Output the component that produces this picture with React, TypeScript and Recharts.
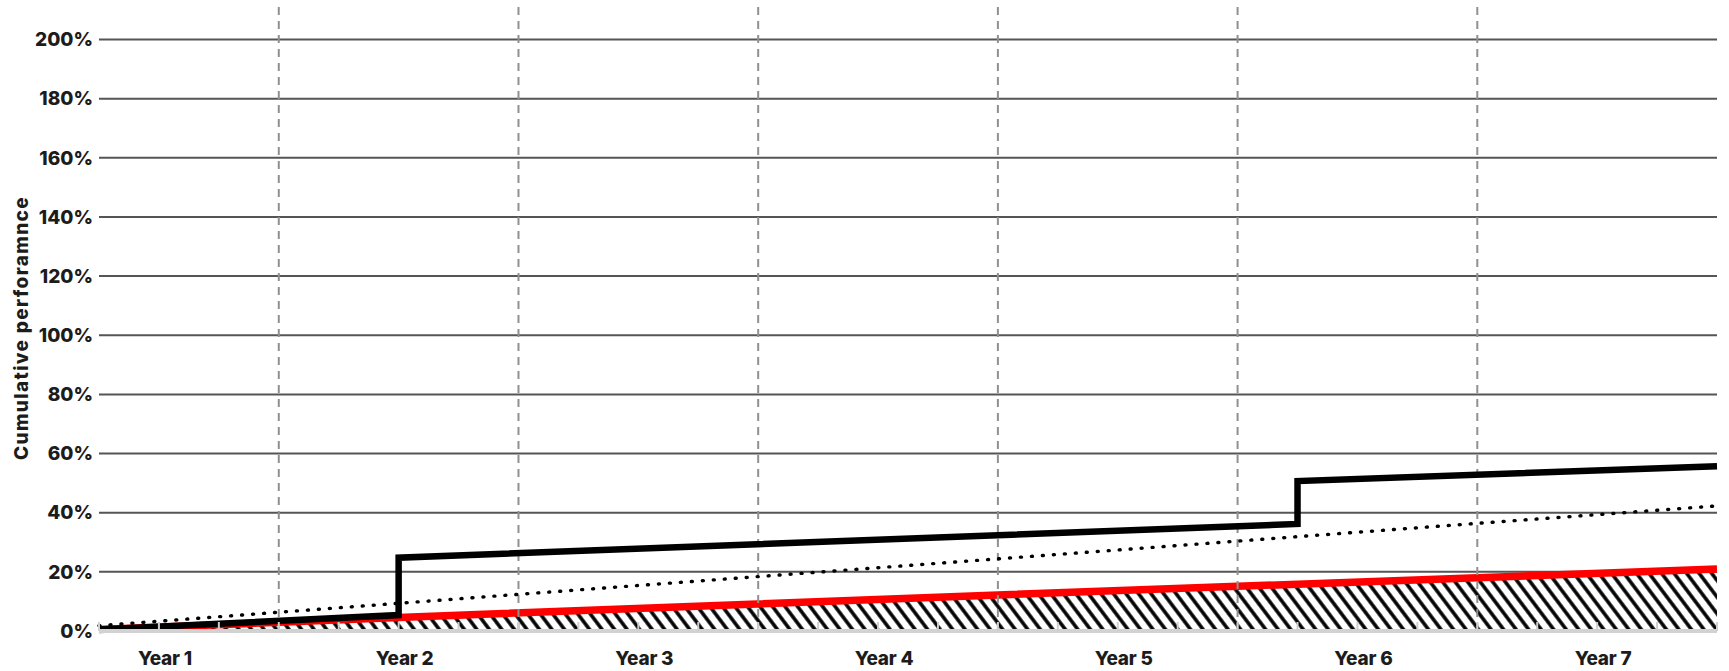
import React from 'react';
import {
  ComposedChart,
  Line,
  Area,
  XAxis,
  YAxis,
  CartesianGrid,
  ReferenceLine,
} from 'recharts';

// x = quarter index (1 = first quarter shown, 28 = end of year 7)
const quarters = [1, 2, 3, 4, 5, 6, 7, 8, 9, 10, 11, 12, 13, 14, 15, 16, 17, 18, 19, 20, 21, 22, 23, 24, 25, 26, 27, 28];
const yearLabelQuarters = [2, 6, 10, 14, 18, 22, 26];
const yearLabels = ['Year 1', 'Year 2', 'Year 3', 'Year 4', 'Year 5', 'Year 6', 'Year 7'];
const yearBoundaries = [4, 8, 12, 16, 20, 24];
const yTicks = [0, 20, 40, 60, 80, 100, 120, 140, 160, 180, 200];

// black step series (cumulative %)
const stepSeries = [
  { q: 1, v: 0.5 },
  { q: 6, v: 5.4 },
  { q: 6, v: 24.8 },
  { q: 21, v: 36.2 },
  { q: 21, v: 50.7 },
  { q: 28, v: 55.7 },
];

// dotted series
const dottedSeries = [
  { q: 1, v: 1.8 },
  { q: 8, v: 12.4 },
  { q: 16, v: 24.4 },
  { q: 24, v: 36.4 },
  { q: 28, v: 42.3 },
];

// red series with hatched area beneath
const redSeries = [
  { q: 1, v: 0.5 },
  { q: 6, v: 4.6 },
  { q: 16, v: 12.2 },
  { q: 24, v: 18.0 },
  { q: 28, v: 21.0 },
];

const FONT = "Inter, 'Open Sans', 'DejaVu Sans', sans-serif";

const QuarterTick = (props: any) => {
  const { x, y, payload } = props;
  const idx = yearLabelQuarters.indexOf(payload.value);
  return (
    <g>
      <line x1={x} x2={x} y1={y - 9} y2={y} stroke="#cfcfcf" strokeWidth={2} />
      {idx >= 0 && (
        <text
          x={x + 6}
          y={y + 34}
          textAnchor="middle"
          fontFamily={FONT}
          fontWeight={800}
          fontSize={19}
          letterSpacing={-0.2}
          fill="#1c1c1c"
        >
          {yearLabels[idx]}
        </text>
      )}
    </g>
  );
};

const YLabel = (props: any) => {
  const vb = props.viewBox || { x: 0, y: 7, width: 99, height: 624 };
  const cx = vb.x + 21;
  const cy = vb.y + vb.height / 2 + 9;
  return (
    <text
      x={cx}
      y={cy}
      transform={`rotate(-90 ${cx} ${cy})`}
      textAnchor="middle"
      dominantBaseline="central"
      fontFamily={FONT}
      fontWeight={800}
      fontSize={19}
      letterSpacing={1.35}
      fill="#1c1c1c"
    >
      Cumulative perforamnce
    </text>
  );
};

export default function App() {
  return (
    <div style={{ position: 'absolute', left: 0, top: 0, width: 1729, height: 671, background: '#fff' }}>
      <ComposedChart
        width={1729}
        height={671}
        margin={{ top: 7, right: 12, bottom: 0, left: 0 }}
      >
        <defs>
          <pattern
            id="hatch"
            patternUnits="userSpaceOnUse"
            width={10}
            height={10}
            patternTransform="rotate(-37)"
          >
            <line x1={2} y1={-2} x2={2} y2={12} stroke="#000" strokeWidth={3.5} />
          </pattern>
        </defs>
        <CartesianGrid
          vertical={false}
          stroke="#555"
          strokeWidth={2}
          horizontalValues={yTicks}
        />
        {yearBoundaries.map((b) => (
          <ReferenceLine key={b} x={b} stroke="#909090" strokeWidth={2} strokeDasharray="8 6" />
        ))}
        <XAxis
          type="number"
          dataKey="q"
          domain={[1, 28]}
          ticks={quarters}
          interval={0}
          height={40}
          tickSize={0}
          tickMargin={0}
          tickLine={false}
          axisLine={{ stroke: '#d2d2d2', strokeWidth: 4 }}
          tick={<QuarterTick />}
          allowDuplicatedCategory={false}
        />
        <YAxis
          type="number"
          domain={[0, 211]}
          ticks={yTicks}
          width={99}
          tickSize={0}
          tickMargin={6}
          tickLine={false}
          axisLine={false}
          tickFormatter={(v: number) => `${v}%`}
          tick={{ fontFamily: FONT, fontWeight: 800, fontSize: 19, fill: '#1c1c1c' }}
          label={{ content: <YLabel /> }}
        />
        <Area
          data={redSeries}
          dataKey="v"
          type="linear"
          stroke="#ff0000"
          strokeWidth={7.5}
          fill="url(#hatch)"
          fillOpacity={1}
          isAnimationActive={false}
          dot={false}
          activeDot={false}
        />
        <Line
          data={dottedSeries}
          dataKey="v"
          type="linear"
          stroke="#000"
          strokeWidth={3.4}
          strokeDasharray="1 10"
          strokeLinecap="round"
          dot={false}
          activeDot={false}
          isAnimationActive={false}
        />
        <Line
          data={stepSeries}
          dataKey="v"
          type="linear"
          stroke="#000"
          strokeWidth={6.5}
          dot={false}
          activeDot={false}
          isAnimationActive={false}
        />
      </ComposedChart>
    </div>
  );
}
